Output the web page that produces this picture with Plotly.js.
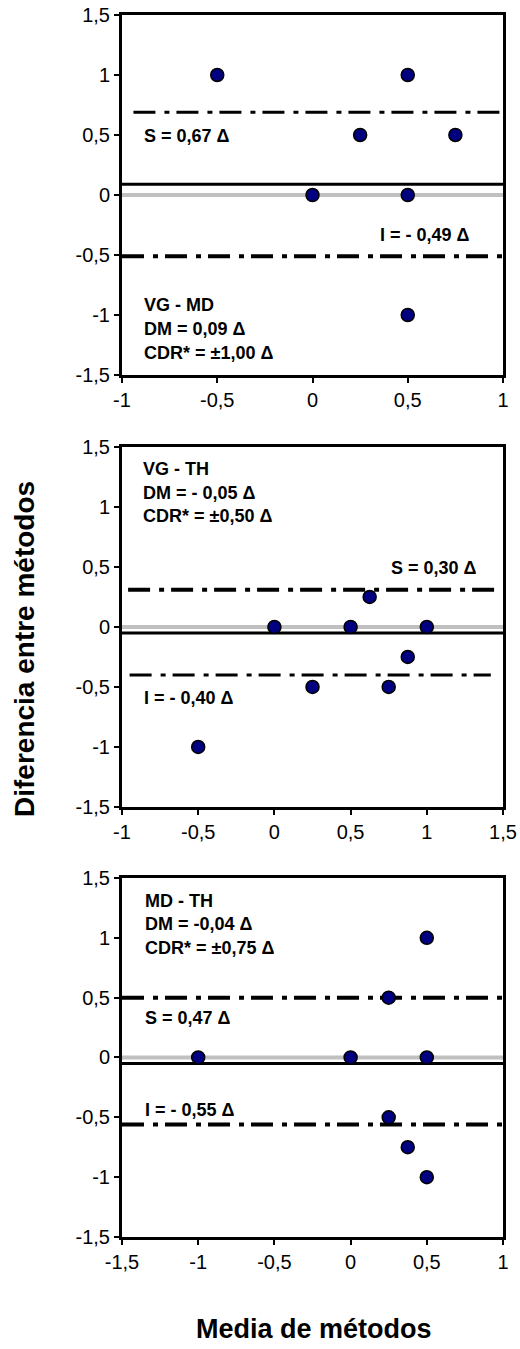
<!DOCTYPE html>
<html>
<head>
<meta charset="utf-8">
<script src="https://cdn.plot.ly/plotly-3.0.1.min.js"></script>
<style>html,body{margin:0;padding:0;background:#fff;}#chart{width:520px;height:1349px;}</style>
</head>
<body>
<div id="chart"></div>
<script>
// ---- Data ----
// Panel 1: VG - MD
var x1 = [-0.5, 0.5, 0.25, 0.75, 0, 0.5, 0.5];
var y1 = [1, 1, 0.5, 0.5, 0, 0, -1];
var dm1 = 0.09, s1 = 0.69, i1 = -0.51;
// Panel 2: VG - TH
var x2 = [-0.5, 0, 0.25, 0.5, 0.625, 0.75, 0.875, 1];
var y2 = [-1, 0, -0.5, 0, 0.25, -0.5, -0.25, 0];
var dm2 = -0.05, s2 = 0.31, i2 = -0.40;
// Panel 3: MD - TH
var x3 = [-1, 0, 0.25, 0.5, 0.5, 0.25, 0.375, 0.5];
var y3 = [0, 0, 0.5, 1, 0, -0.5, -0.75, -1];
var dm3 = -0.05, s3 = 0.50, i3 = -0.56;

var xRange1 = [-1, 1], xRange2 = [-1, 1.5], xRange3 = [-1.5, 1];
var sSpan1 = [-0.94, 1], iSpan1 = [-1, 1];
var sSpan2 = [-0.96, 1.5], iSpan2 = [-0.95, 1.42];
var sSpan3 = [-1.5, 1], iSpan3 = [-1.5, 1];

var yTickVals = [-1.5, -1, -0.5, 0, 0.5, 1, 1.5];
var yTickText = ["-1,5", "-1", "-0,5", "0", "0,5", "1", "1,5"];
var xTickVals1 = [-1, -0.5, 0, 0.5, 1];
var xTickText1 = ["-1", "-0,5", "0", "0,5", "1"];
var xTickVals2 = [-1, -0.5, 0, 0.5, 1, 1.5];
var xTickText2 = ["-1", "-0,5", "0", "0,5", "1", "1,5"];
var xTickVals3 = [-1.5, -1, -0.5, 0, 0.5, 1];
var xTickText3 = ["-1,5", "-1", "-0,5", "0", "0,5", "1"];

var labels1 = {title: "VG - MD", dm: "DM = 0,09 Δ", cdr: "CDR* = ±1,00 Δ", s: "S = 0,67 Δ", i: "I = - 0,49 Δ"};
var labels2 = {title: "VG - TH", dm: "DM = - 0,05 Δ", cdr: "CDR* = ±0,50 Δ", s: "S = 0,30 Δ", i: "I = - 0,40 Δ"};
var labels3 = {title: "MD - TH", dm: "DM = -0,04 Δ", cdr: "CDR* = ±0,75 Δ", s: "S = 0,47 Δ", i: "I = - 0,55 Δ"};

// ---- Build ----
var FONT = "Liberation Sans, Arial, sans-serif";
var DASH = "22px,9px,5px,7px";
var traces = [];
function panel(xs, ys, dm, s, i, xr, sSpan, iSpan, xa, ya, sW, iW) {
  traces.push({x: xr, y: [0, 0], xaxis: xa, yaxis: ya, mode: "lines", line: {color: "#c0c0c0", width: 4}, hoverinfo: "skip"});
  traces.push({x: xr, y: [dm, dm], xaxis: xa, yaxis: ya, mode: "lines", line: {color: "#000", width: 3}, hoverinfo: "skip"});
  traces.push({x: sSpan, y: [s, s], xaxis: xa, yaxis: ya, mode: "lines", line: {color: "#000", width: sW, dash: DASH}, hoverinfo: "skip"});
  traces.push({x: iSpan, y: [i, i], xaxis: xa, yaxis: ya, mode: "lines", line: {color: "#000", width: iW, dash: DASH}, hoverinfo: "skip"});
  traces.push({x: xs, y: ys, xaxis: xa, yaxis: ya, mode: "markers", marker: {size: 13, color: "#000080", line: {color: "#000", width: 1.5}}});
}
panel(x1, y1, dm1, s1, i1, xRange1, sSpan1, iSpan1, "x", "y", 3, 4);
panel(x2, y2, dm2, s2, i2, xRange2, sSpan2, iSpan2, "x2", "y2", 4, 3);
panel(x3, y3, dm3, s3, i3, xRange3, sSpan3, iSpan3, "x3", "y3", 4, 4);

function xax(range, tv, tt, anchor) {
  return {range: range, anchor: anchor, domain: [0, 1], showline: true, mirror: true, linecolor: "#000", linewidth: 3,
    ticks: "outside", ticklen: 5, tickwidth: 2, tickcolor: "#000", tickvals: tv, ticktext: tt,
    showgrid: false, zeroline: false, tickfont: {family: FONT, size: 20, color: "#000"}, fixedrange: true};
}
function yax(dom, anchor) {
  return {range: [-1.5, 1.5], anchor: anchor, domain: dom, showline: true, mirror: true, linecolor: "#000", linewidth: 3,
    ticks: "outside", ticklen: 5, tickwidth: 2, tickcolor: "#000", tickvals: yTickVals, ticktext: yTickText,
    showgrid: false, zeroline: false, tickfont: {family: FONT, size: 20, color: "#000"}, fixedrange: true};
}

var annotations = [];
function ann(text, x, y, xa, ya, anchor) {
  annotations.push({text: text, x: x, y: y, xref: xa, yref: ya, xanchor: anchor || "left", yanchor: "middle",
    showarrow: false, font: {family: FONT, size: 18, color: "#000"}});
}
ann("<b>" + labels1.s + "</b>", -0.895, 0.49, "x", "y");
ann("<b>" + labels1.i + "</b>", 0.344, -0.33, "x", "y");
ann("<b>" + labels1.title + "</b>", -0.895, -0.92, "x", "y");
ann("<b>" + labels1.dm + "</b>", -0.895, -1.12, "x", "y");
ann("<b>" + labels1.cdr + "</b>", -0.895, -1.32, "x", "y");

ann("<b>" + labels2.title + "</b>", -0.873, 1.32, "x2", "y2");
ann("<b>" + labels2.dm + "</b>", -0.873, 1.12, "x2", "y2");
ann("<b>" + labels2.cdr + "</b>", -0.873, 0.925, "x2", "y2");
ann("<b>" + labels2.s + "</b>", 1.345, 0.495, "x2", "y2", "right");
ann("<b>" + labels2.i + "</b>", -0.87, -0.59, "x2", "y2");

ann("<b>" + labels3.title + "</b>", -1.362, 1.31, "x3", "y3");
ann("<b>" + labels3.dm + "</b>", -1.362, 1.117, "x3", "y3");
ann("<b>" + labels3.cdr + "</b>", -1.362, 0.917, "x3", "y3");
ann("<b>" + labels3.s + "</b>", -1.362, 0.333, "x3", "y3");
ann("<b>" + labels3.i + "</b>", -1.362, -0.437, "x3", "y3");

// axis titles
annotations.push({text: "<b>Diferencia entre métodos</b>", xref: "paper", yref: "paper", x: -0.2546, y: 0.4812,
  xanchor: "center", yanchor: "middle", textangle: -90, showarrow: false, font: {family: FONT, size: 28, color: "#000"}});
annotations.push({text: "<b>Media de métodos</b>", xref: "paper", yref: "paper", x: 0.505, y: -0.0755,
  xanchor: "center", yanchor: "middle", showarrow: false, font: {family: FONT, size: 27, color: "#000"}});

var layout = {
  width: 520, height: 1349,
  margin: {l: 122, r: 17, t: 15, b: 112},
  paper_bgcolor: "#fff", plot_bgcolor: "#fff",
  showlegend: false,
  xaxis: xax(xRange1, xTickVals1, xTickText1, "y"),
  yaxis: yax([0.7054, 1], "x"),
  xaxis2: xax(xRange2, xTickVals2, xTickText2, "y2"),
  yaxis2: yax([0.3519, 0.6465], "x2"),
  xaxis3: xax(xRange3, xTickVals3, xTickText3, "y3"),
  yaxis3: yax([0, 0.2938], "x3"),
  annotations: annotations
};
Plotly.newPlot("chart", traces, layout, {displayModeBar: false, staticPlot: true});
</script>
</body>
</html>
